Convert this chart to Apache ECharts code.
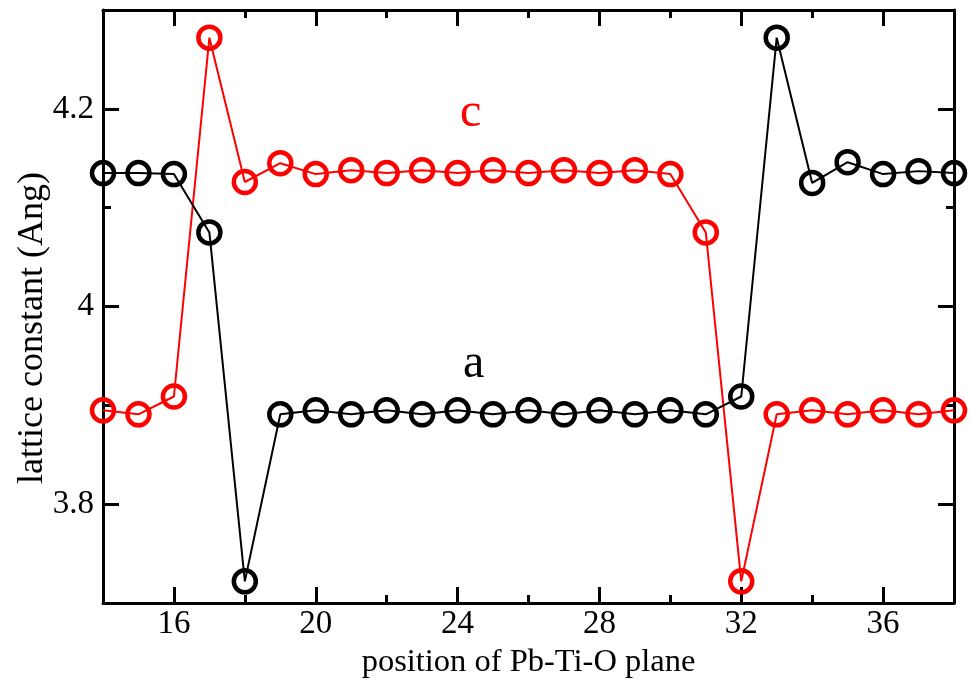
<!DOCTYPE html>
<html>
<head>
<meta charset="utf-8">
<script src="https://cdn.jsdelivr.net/npm/echarts@6/dist/echarts.min.js"></script>
<style>html,body{margin:0;padding:0;background:#fff;}#chart{width:970px;height:684px;}</style>
</head>
<body>
<div id="chart"></div>
<script>
// ---- data ----
var positions = [14,15,16,17,18,19,20,21,22,23,24,25,26,27,28,29,30,31,32,33,34,35,36,37,38];
var aValues = [4.135,4.135,4.134,4.075,3.722,3.891,3.895,3.891,3.895,3.891,3.895,3.891,3.895,3.891,3.895,3.891,3.895,3.891,3.909,4.272,4.125,4.146,4.134,4.137,4.135];
var cValues = [3.895,3.891,3.909,4.272,4.126,4.145,4.134,4.138,4.135,4.138,4.135,4.138,4.135,4.138,4.135,4.138,4.134,4.075,3.722,3.891,3.895,3.891,3.895,3.891,3.895];
var xMajorTicks = [16,20,24,28,32,36];
var xMinorTicks = [18,22,26,30,34];
var yMajorTicks = [3.8,4.0,4.2];
var yMinorTicks = [3.9,4.1];
var xTitle = 'position of Pb-Ti-O plane';
var yTitle = 'lattice constant (Ang)';
var annotations = [
  {text:'c', x:24.37, y:4.195, color:'#ff0000'},
  {text:'a', x:24.45, y:3.941, color:'#000000'}
];

var FONT = "'Liberation Serif','Times New Roman',serif";
var chart = echarts.init(document.getElementById('chart'), null, {renderer:'canvas'});

function xAx(pos, ticks, len, showLine, showLabel){
  return {
    type:'value', position:pos, min:14, max:38, interval:2,
    axisLine:{show:showLine, onZero:false, lineStyle:{color:'#000', width:3}},
    axisTick:{show:true, inside:true, length:len, customValues:ticks, lineStyle:{color:'#000', width:3}},
    axisLabel:{show:showLabel, customValues:ticks, margin:5, color:'#000', fontSize:33, fontFamily:FONT},
    splitLine:{show:false}
  };
}
function yAx(pos, ticks, len, showLine, showLabel){
  return {
    type:'value', position:pos, min:3.7, max:4.3, interval:0.1,
    axisLine:{show:showLine, onZero:false, lineStyle:{color:'#000', width:3}},
    axisTick:{show:true, inside:true, length:len, customValues:ticks, lineStyle:{color:'#000', width:3}},
    axisLabel:{show:showLabel, customValues:ticks, margin:9, color:'#000', fontSize:33, fontFamily:FONT,
      formatter:function(v){ return (Math.round(v*10)/10).toString(); }},
    splitLine:{show:false}
  };
}

function pairs(vals){ return positions.map(function(p,i){ return [p, vals[i]]; }); }

var option = {
  backgroundColor:'#fff',
  animation:false,
  grid:{left:103, right:16, top:10, bottom:79, containLabel:false},
  xAxis:[
    Object.assign(xAx('bottom', xMajorTicks, 16, true, true), {name:xTitle, nameLocation:'middle', nameGap:31,
      nameTextStyle:{color:'#000', fontSize:32.5, fontFamily:FONT}}),
    xAx('bottom', xMinorTicks, 8, false, false),
    xAx('top', xMajorTicks, 16, true, false),
    xAx('top', xMinorTicks, 8, false, false)
  ],
  yAxis:[
    yAx('left', yMajorTicks, 16, true, true),
    yAx('left', yMinorTicks, 8, false, false),
    yAx('right', yMajorTicks, 16, true, false),
    yAx('right', yMinorTicks, 8, false, false)
  ],
  series:[
    {name:'a', type:'line', xAxisIndex:0, yAxisIndex:0, data:pairs(aValues),
     symbol:'circle', symbolSize:22, showAllSymbol:true,
     lineStyle:{color:'#000', width:2},
     itemStyle:{color:'rgba(0,0,0,0)', borderColor:'#000', borderWidth:4.5}, z:3},
    {name:'c', type:'line', xAxisIndex:0, yAxisIndex:0, data:pairs(cValues),
     symbol:'circle', symbolSize:22, showAllSymbol:true,
     lineStyle:{color:'#ff0000', width:2},
     itemStyle:{color:'rgba(0,0,0,0)', borderColor:'#ff0000', borderWidth:4.5}, z:2}
  ]
};
chart.setOption(option);

var g = annotations.map(function(a){
  var p = chart.convertToPixel({xAxisIndex:0, yAxisIndex:0}, [a.x, a.y]);
  return {type:'text', x:p[0], y:p[1], style:{text:a.text, fill:a.color, font:'48px '+FONT, align:'center', verticalAlign:'middle'}, z:10};
});
g.push({type:'text', x:33, y:328, rotation:Math.PI/2,
  style:{text:yTitle, fill:'#000', font:'36px '+FONT, align:'center', verticalAlign:'middle'}});
chart.setOption({graphic:g});
</script>
</body>
</html>
